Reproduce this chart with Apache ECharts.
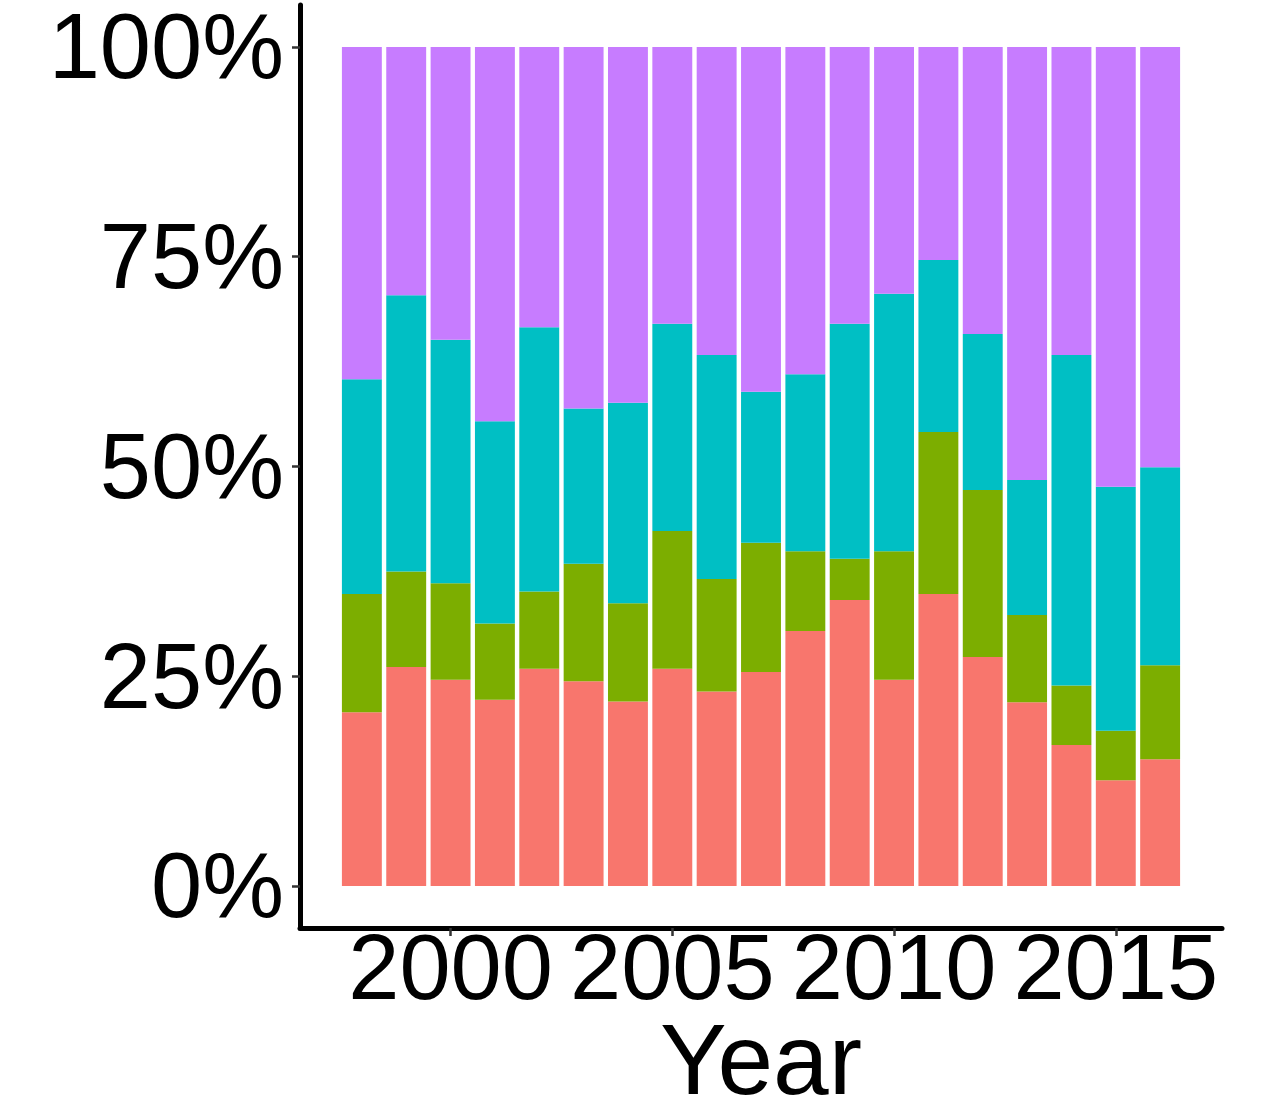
<!DOCTYPE html>
<html>
<head>
<meta charset="utf-8">
<script src="https://cdn.jsdelivr.net/npm/echarts@6/dist/echarts.min.js"></script>
<style>
html,body{margin:0;padding:0;background:#fff;}
#chart{width:1276px;height:1110px;}
</style>
</head>
<body>
<div id="chart"></div>
<script>
const years = [1998,1999,2000,2001,2002,2003,2004,2005,2006,2007,2008,2009,2010,2011,2012,2013,2014,2015,2016];
// shares in percent, bottom to top
const seriesRed    = [20.7,26.1,24.6,22.2,25.9,24.4,22.0,25.9,23.2,25.5,30.4,34.1,24.6,34.8,27.3,21.9,16.8,12.6,15.1];
const seriesGreen  = [14.1,11.4,11.5, 9.1, 9.2,14.0,11.7,16.4,13.4,15.4, 9.5, 4.9,15.3,19.3,19.9,10.4, 7.1, 5.9,11.2];
const seriesCyan   = [25.6,32.9,29.0,24.1,31.5,18.5,23.9,24.7,26.7,18.0,21.1,28.0,30.7,20.5,18.6,16.1,39.4,29.1,23.6];
const seriesPurple = [39.6,29.6,34.9,44.6,33.4,43.1,42.4,33.0,36.7,41.1,39.0,33.0,29.4,25.4,34.2,51.6,36.7,52.4,50.1];
const xTicks = [2000,2005,2010,2015];
const yTicks = [0,25,50,75,100];

const names = ['Group 1','Group 2','Group 3','Group 4'];
const colors = ['#F8766D','#7CAE00','#00BFC4','#C77CFF'];
const allSeries = [seriesRed, seriesGreen, seriesCyan, seriesPurple];

const FONT = '"Liberation Sans", Arial, Helvetica, sans-serif';
const chart = echarts.init(document.getElementById('chart'), null, {renderer:'canvas'});

const BAR = 0.9;
const xMin = years[0] - BAR/2 - 0.05*(years[years.length-1]-years[0]+BAR);
const xMax = years[years.length-1] + BAR/2 + 0.05*(years[years.length-1]-years[0]+BAR);

// stacked [year, bottom, top] per series
const cum = years.map(() => 0);
const stacked = allSeries.map(arr => years.map((y, j) => {
  const lo = cum[j]; cum[j] += arr[j];
  return [y, lo, cum[j]];
}));

chart.setOption({
  animation: false,
  backgroundColor: '#ffffff',
  grid: {left: 300, right: 54, top: 5, bottom: 182, containLabel: false, outerBoundsMode: 'none'},
  xAxis: {
    type: 'value', min: xMin, max: xMax,
    name: 'Year', nameLocation: 'middle', nameGap: 88, nameMoveOverlap: false,
    nameTextStyle: {fontFamily: FONT, fontSize: 100, color: '#000'},
    axisLine: {show: true, onZero: false, lineStyle: {color: '#000', width: 5}},
    axisTick: {show: true, length: 8, lineStyle: {color: '#333', width: 2.5}, customValues: xTicks},
    axisLabel: {show: true, fontFamily: FONT, fontSize: 92, color: '#000', margin: 0, customValues: xTicks,
      formatter: v => String(v)},
    splitLine: {show: false}
  },
  yAxis: {
    type: 'value', min: -5, max: 105,
    axisLine: {show: true, onZero: false, lineStyle: {color: '#000', width: 5}},
    axisTick: {show: true, length: 8, lineStyle: {color: '#333', width: 2.5}, customValues: yTicks},
    axisLabel: {show: true, fontFamily: FONT, fontSize: 92, color: '#000', margin: 16, customValues: yTicks,
      verticalAlign: 'top', lineHeight: 12, formatter: v => v + '%'},
    splitLine: {show: false}
  },
  series: stacked.map((data, i) => ({
    name: names[i],
    type: 'custom',
    encode: {x: 0, y: [1, 2]},
    data: data,
    renderItem: function (params, api) {
      const x = api.value(0), lo = api.value(1), hi = api.value(2);
      const p1 = api.coord([x - BAR/2, hi]);
      const p2 = api.coord([x + BAR/2, lo]);
      return {
        type: 'rect',
        shape: {x: p1[0], y: p1[1], width: p2[0] - p1[0], height: p2[1] - p1[1]},
        style: {fill: colors[i]}
      };
    }
  }))
});
</script>
</body>
</html>
